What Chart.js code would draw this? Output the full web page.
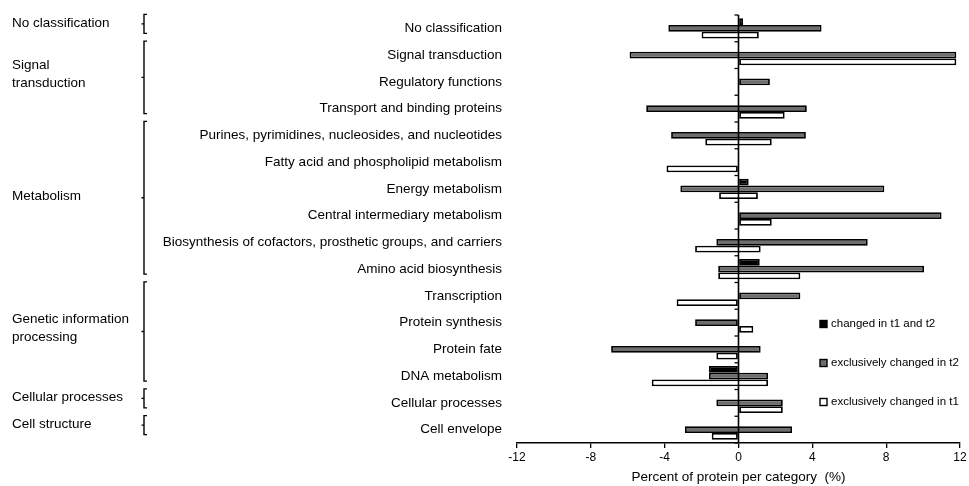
<!DOCTYPE html>
<html>
<head>
<meta charset="utf-8">
<script src="https://cdn.jsdelivr.net/npm/chart.js@4"></script>
<style>
  html, body { margin: 0; padding: 0; background: #ffffff; }
  #wrap { width: 969px; height: 486px; }
</style>
</head>
<body>
<div id="wrap"><canvas id="chart" width="969" height="486"></canvas></div>
<script>
// Functional categories, top to bottom
const categories = [
  'No classification',
  'Signal transduction',
  'Regulatory functions',
  'Transport and binding proteins',
  'Purines, pyrimidines, nucleosides, and nucleotides',
  'Fatty acid and phospholipid metabolism',
  'Energy metabolism',
  'Central intermediary metabolism',
  'Biosynthesis of cofactors, prosthetic groups, and carriers',
  'Amino acid biosynthesis',
  'Transcription',
  'Protein synthesis',
  'Protein fate',
  'DNA metabolism',
  'Cellular processes',
  'Cell envelope'
];

// Main groups and how many categories each one spans
const groupNames = [
  ['No classification'],
  ['Signal', 'transduction'],
  ['Metabolism'],
  ['Genetic information', 'processing'],
  ['Cellular processes'],
  ['Cell structure']
];
const groupSizes = [1, 3, 6, 4, 1, 1];

// Percent of proteins per category: decreased (negative) and increased (positive) parts
const bothLow  = [0, 0, 0, 0, 0, 0, 0, 0, 0, 0, 0, 0, 0, -1.6, 0, 0];
const bothHigh = [0.25, 0, 0, 0, 0, 0, 0.55, 0, 0, 1.15, 0, 0, 0, 0, 0, 0];
const t2Low    = [-3.8, -5.9, 0, -5.0, -3.65, 0, -3.15, 0, -1.2, -1.1, 0, -2.35, -6.9, -1.6, -1.2, -2.9];
const t2High   = [4.5, 11.8, 1.7, 3.7, 3.65, 0, 7.9, 11.0, 7.0, 10.05, 3.35, 0, 1.2, 1.6, 2.4, 2.9];
const t1Low    = [-2.0, 0, 0, 0, -1.8, -3.9, -1.05, 0, -2.35, -1.1, -3.35, 0, -1.2, -4.7, 0, -1.45];
const t1High   = [1.1, 11.8, 0, 2.5, 1.8, 0, 1.05, 1.8, 1.2, 3.35, 0, 0.8, 0, 1.6, 2.4, 0];

const seriesLabels = ['changed in t1 and t2', 'exclusively changed in t2', 'exclusively changed in t1'];
const xTicks = [-12, -8, -4, 0, 4, 8, 12];

const FONT = '"Liberation Sans", Arial, sans-serif';

function spans(low, high) {
  return low.map((lo, i) => (lo === 0 && high[i] === 0) ? null : [lo, high[i]]);
}

const barStyle = {
  borderColor: '#000000',
  borderWidth: 1.8,
  borderSkipped: false,
  categoryPercentage: 0.76,
  barPercentage: 1.0
};

// Vertical axis through zero with category tick marks
const zeroAxis = {
  id: 'zeroAxis',
  afterDatasetsDraw(chart) {
    const { ctx, chartArea, scales } = chart;
    const x0 = scales.x.getPixelForValue(0);
    const y = scales.y;
    ctx.save();
    ctx.strokeStyle = '#000';
    ctx.lineWidth = 1.6;
    ctx.beginPath();
    ctx.moveTo(x0, chartArea.top);
    ctx.lineTo(x0, chartArea.bottom);
    ctx.stroke();
    const n = categories.length;
    const step = (y.getPixelForValue(n - 1) - y.getPixelForValue(0)) / (n - 1);
    ctx.lineWidth = 1.3;
    for (let i = 0; i <= n; i++) {
      const yy = y.getPixelForValue(0) - step / 2 + i * step;
      ctx.beginPath();
      ctx.moveTo(x0 - 4, yy);
      ctx.lineTo(x0, yy);
      ctx.stroke();
    }
    ctx.restore();
  }
};

// Group brackets and group names on the left
const groupBrackets = {
  id: 'groupBrackets',
  afterDraw(chart) {
    const { ctx, scales } = chart;
    const y = scales.y;
    const bx = 144;
    ctx.save();
    ctx.strokeStyle = '#000';
    ctx.fillStyle = '#000';
    ctx.lineWidth = 1.4;
    ctx.font = '13.5px ' + FONT;
    ctx.textAlign = 'left';
    ctx.textBaseline = 'middle';
    let start = 0;
    groupSizes.forEach((size, g) => {
      const top = y.getPixelForValue(start) - 14;
      const bottom = y.getPixelForValue(start + size - 1) + 5;
      const mid = (top + bottom) / 2;
      ctx.beginPath();
      ctx.moveTo(bx + 3, top);
      ctx.lineTo(bx, top);
      ctx.lineTo(bx, bottom);
      ctx.lineTo(bx + 3, bottom);
      ctx.moveTo(bx, mid);
      ctx.lineTo(bx - 2.5, mid);
      ctx.stroke();
      const lines = groupNames[g];
      const lh = 18;
      const y0 = mid - 1 - (lines.length - 1) * (lh / 2 + 2);
      lines.forEach((t, k) => ctx.fillText(t, 12, y0 + k * lh));
      start += size;
    });
    ctx.restore();
  }
};

// Legend inside the plot area
const boxLegend = {
  id: 'boxLegend',
  afterDraw(chart) {
    const { ctx, chartArea } = chart;
    const lx = chartArea.right - 140;
    const rows = [chartArea.top + 309, chartArea.top + 348, chartArea.top + 387];
    ctx.save();
    ctx.font = '11.5px ' + FONT;
    ctx.textAlign = 'left';
    ctx.textBaseline = 'middle';
    chart.data.datasets.forEach((ds, i) => {
      const yy = rows[i];
      ctx.fillStyle = ds.backgroundColor;
      ctx.fillRect(lx, yy - 3.5, 7, 7);
      ctx.strokeStyle = '#000';
      ctx.lineWidth = 1.4;
      ctx.strokeRect(lx, yy - 3.5, 7, 7);
      ctx.fillStyle = '#000';
      ctx.fillText(ds.label, lx + 11, yy);
    });
    ctx.restore();
  }
};

new Chart(document.getElementById('chart'), {
  type: 'bar',
  data: {
    labels: categories,
    datasets: [
      Object.assign({ label: seriesLabels[0], data: spans(bothLow, bothHigh), backgroundColor: '#000000' }, barStyle),
      Object.assign({ label: seriesLabels[1], data: spans(t2Low, t2High), backgroundColor: '#6e6e6e' }, barStyle),
      Object.assign({ label: seriesLabels[2], data: spans(t1Low, t1High), backgroundColor: '#ffffff' }, barStyle)
    ]
  },
  options: {
    indexAxis: 'y',
    responsive: false,
    animation: false,
    layout: { padding: { top: 15, right: 9, left: 0, bottom: 0 } },
    plugins: {
      legend: { display: false },
      tooltip: { enabled: false }
    },
    scales: {
      x: {
        type: 'linear',
        min: xTicks[0],
        max: xTicks[xTicks.length - 1],
        afterBuildTicks(scale) { scale.ticks = xTicks.map(v => ({ value: v })); },
        afterFit(scale) { scale.height = 43; },
        grid: { drawOnChartArea: false, drawTicks: true, tickLength: 5, color: '#000', lineWidth: 1.3 },
        border: { display: true, color: '#000', width: 1.6 },
        ticks: { color: '#000', font: { family: FONT, size: 12 }, padding: 2 },
        title: {
          display: true,
          text: 'Percent of protein per category  (%)',
          color: '#000',
          font: { family: FONT, size: 13.5 },
          padding: { top: 0, bottom: 1 }
        }
      },
      y: {
        type: 'category',
        afterFit(scale) {
          scale.width = 517;
          scale.paddingTop = 0;
          scale.paddingBottom = 0;
        },
        grid: { display: false, drawTicks: false },
        border: { display: false },
        ticks: { color: '#000', font: { family: FONT, size: 13.5 }, padding: 15, autoSkip: false }
      }
    }
  },
  plugins: [zeroAxis, groupBrackets, boxLegend]
});
</script>
</body>
</html>
